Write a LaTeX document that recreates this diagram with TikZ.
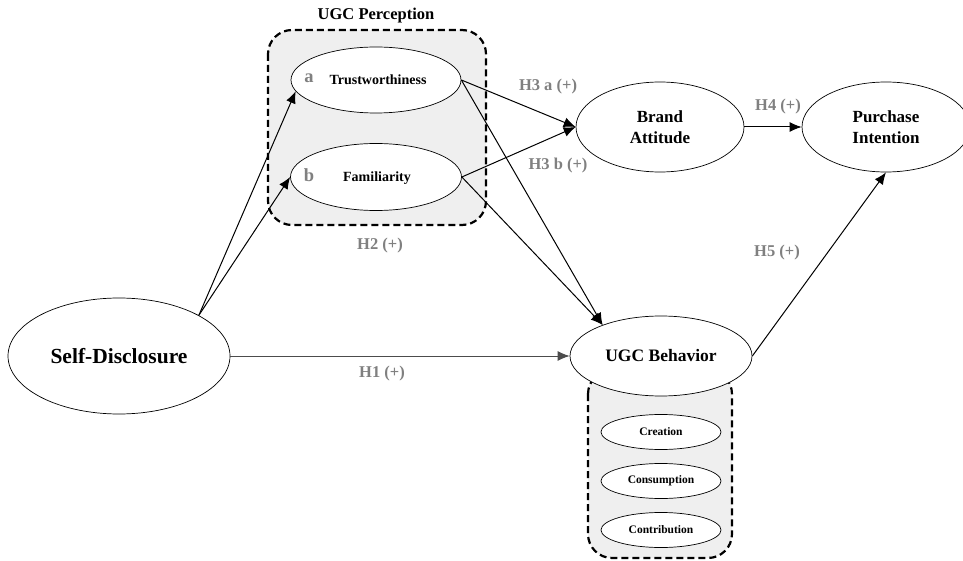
\documentclass[tikz,border=0pt]{standalone}
\usepackage{fontspec}
\setmainfont{Liberation Serif}
\usetikzlibrary{shapes.geometric,arrows.meta}
\definecolor{boxgray}{HTML}{EFEFEF}
\definecolor{labgray}{HTML}{808080}
\tikzset{
  construct/.style={ellipse, draw=black, line width=0.7pt, fill=white, inner sep=0pt, font=\bfseries},
  group/.style={draw=black, dashed, dash pattern=on 7pt off 4pt, line width=2.2pt, fill=boxgray, rounded corners=24pt},
  path/.style={-{Latex[length=12pt,width=10pt]}, line width=1pt, draw=black},
  hyp/.style={text=labgray, font=\fontsize{16.5}{16.5}\selectfont\bfseries},
  tag/.style={text=labgray, font=\fontsize{18.5}{18.5}\selectfont\bfseries},
}
\begin{document}
\begin{tikzpicture}[x=1pt,y=-1pt]
\useasboundingbox (0,0) rectangle (963,561);
\fill[white] (0,0) rectangle (963,561);

% construct groups
\draw[group] (268,30) rectangle (486,225);
\draw[group] (588,370) rectangle (732,558);
\node[font=\fontsize{16.5}{16.5}\selectfont\bfseries] (perctitle) at (376,16) {UGC Perception};

% constructs
\node[construct, minimum width=222pt, minimum height=116pt, font=\fontsize{21.5}{21.5}\selectfont\bfseries] (sd) at (119,356) {Self-Disclosure};
\node[construct, minimum width=170pt, minimum height=66pt] (trust) at (376,80) {};
\node[font=\fontsize{14}{14}\selectfont\bfseries] (trusttxt) at (378,80) {Trustworthiness};
\node[tag] (taga) at (309,78) {a};
\node[construct, minimum width=171pt, minimum height=67pt] (fam) at (376,177) {};
\node[font=\fontsize{14}{14}\selectfont\bfseries] (famtxt) at (377,178) {Familiarity};
\node[tag] (tagb) at (309,175) {b};
\node[construct, minimum width=168pt, minimum height=90pt, align=center, font=\fontsize{17}{21}\selectfont\bfseries] (ba) at (660,127) {Brand\\Attitude};
\node[construct, minimum width=168pt, minimum height=90pt, align=center, font=\fontsize{17}{21}\selectfont\bfseries] (pi) at (886,127) {Purchase\\Intention};
\node[construct, minimum width=182pt, minimum height=80pt, font=\fontsize{17.5}{17.5}\selectfont\bfseries] (ugcb) at (661,356) {UGC Behavior};
\node[construct, minimum width=120pt, minimum height=35pt, font=\fontsize{11.5}{11.5}\selectfont\bfseries] (cre) at (661,432) {Creation};
\node[construct, minimum width=120pt, minimum height=35pt, font=\fontsize{11.5}{11.5}\selectfont\bfseries] (con) at (661,481) {Consumption};
\node[construct, minimum width=120pt, minimum height=35pt, font=\fontsize{11.5}{11.5}\selectfont\bfseries] (ctb) at (661,530) {Contribution};

% hypothesised paths
\draw[path] (sd.27) -- (trust.188);
\draw[path] (sd.27) -- (fam.west);
\draw[path, draw=black!70] (sd.east) -- (ugcb.west);
\draw[path] (trust.east) -- (ba.west);
\draw[path] (fam.east) -- (ba.west);
\draw[path] (trust.east) -- (ugcb.152);
\draw[path] (fam.east) -- (ugcb.152);
\draw[path] (ba.east) -- (pi.west);
\draw[path] (ugcb.east) -- (pi.south);

% hypothesis labels
\node[hyp] (h1) at (382,374) {H1 (+)};
\node[hyp] (h2) at (380,246) {H2 (+)};
\node[hyp] (h3a) at (548,87) {H3 a (+)};
\node[hyp] (h3b) at (558,166) {H3 b (+)};
\node[hyp] (h4) at (778,107) {H4 (+)};
\node[hyp] (h5) at (777,253) {H5 (+)};
\end{tikzpicture}
\end{document}
